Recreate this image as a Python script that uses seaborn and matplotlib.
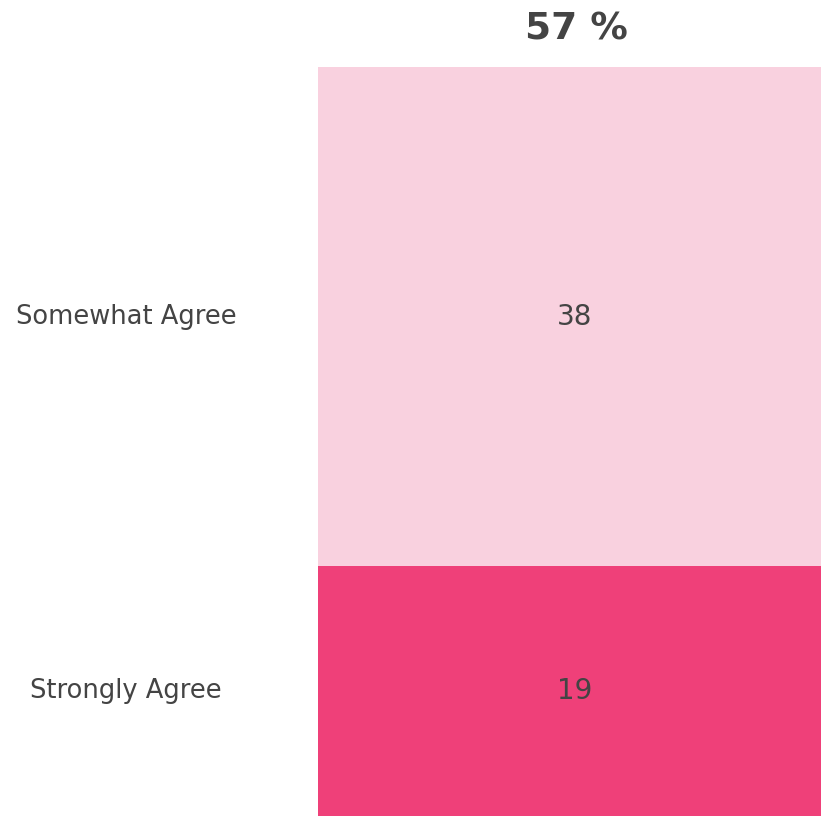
import numpy as np
import pandas as pd
import seaborn as sns
import matplotlib
matplotlib.use("Agg")
import matplotlib.pyplot as plt

sns.set_theme(style="white")
plt.rcParams["font.family"] = ["DejaVu Sans"]

# data
categories = ["Strongly Agree", "Somewhat Agree"]
values = [19, 38]
colors = ["#EF4079", "#F9D1DF"]
total_label = "57 %"

TEXT = "#444444"

fig = plt.figure(figsize=(8.21, 8.16), dpi=100)
ax = fig.add_axes([318 / 821, 0.0, 1 - 318 / 821, (816 - 67) / 816])

# stacked bar: draw the cumulative totals, largest first
cum = np.cumsum(values)
df = pd.DataFrame({"group": ["all"] * len(values), "top": cum, "cat": categories})
for i in range(len(values) - 1, -1, -1):
    sns.barplot(data=df.iloc[[i]], x="group", y="top", color=colors[i],
                width=1.0, saturation=1, ax=ax, edgecolor="none")

ax.set_xlim(-0.5, 0.5)
ax.set_ylim(0, cum[-1])
ax.set_xlabel("")
ax.set_ylabel("")
ax.set_xticks([])
ax.set_yticks([])
for s in ax.spines.values():
    s.set_visible(False)

# segment values and category labels
starts = cum - np.array(values)
for cat, v, s0 in zip(categories, values, starts):
    mid = s0 + v / 2
    ax.text(0.01, mid, str(v), ha="center", va="center", fontsize=20, color=TEXT)
    ypix = ax.transData.transform((0, mid))[1]
    fig.text(126 / 821, ypix / fig.bbox.height, cat, ha="center", va="center",
             fontsize=18.5, color=TEXT, transform=fig.transFigure)

fig.text(576 / 821, 1 - 30 / 816, total_label, ha="center", va="center",
         fontsize=27, fontweight="bold", color="#444444")

fig.savefig("out.png", dpi=100)
